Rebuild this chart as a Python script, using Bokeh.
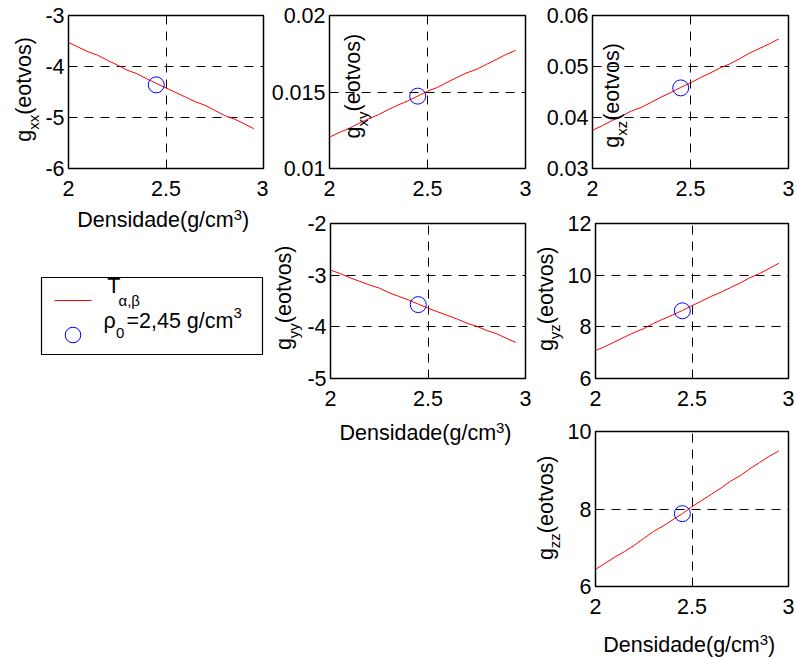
import math
from bokeh.plotting import figure
from bokeh.layouts import row, column
from bokeh.models import Range1d, Label, Legend, LegendItem, Arrow, GlobalInlineStyleSheet
from bokeh.core.properties import value
from bokeh.embed import file_html
from bokeh.resources import INLINE

# ---------------- data ----------------
density = [2.00, 2.05, 2.10, 2.15, 2.20, 2.25, 2.30, 2.35, 2.40, 2.45,
           2.50, 2.55, 2.60, 2.65, 2.70, 2.75, 2.80, 2.85, 2.90, 2.95]
gxx = [-3.53, -3.62, -3.71, -3.78, -3.88, -3.97, -4.07, -4.14, -4.24, -4.33,
       -4.42, -4.51, -4.60, -4.69, -4.76, -4.86, -4.96, -5.03, -5.12, -5.22]
gxy = [0.01205, 0.01235, 0.01262, 0.01295, 0.01325, 0.01352, 0.01385, 0.01415, 0.01442, 0.01473,
       0.01505, 0.01530, 0.01563, 0.01595, 0.01625, 0.01648, 0.01680, 0.01712, 0.01745, 0.01772]
gxz = [0.0375, 0.0384, 0.0394, 0.0403, 0.0413, 0.0420, 0.0430, 0.0440, 0.0449, 0.0459,
       0.0468, 0.0478, 0.0487, 0.0497, 0.0505, 0.0515, 0.0526, 0.0535, 0.0544, 0.0554]
gyy = [-2.90, -2.97, -3.05, -3.12, -3.19, -3.25, -3.34, -3.41, -3.48, -3.56,
       -3.64, -3.71, -3.78, -3.85, -3.93, -3.99, -4.07, -4.13, -4.22, -4.30]
gyz = [7.08, 7.24, 7.42, 7.60, 7.78, 7.93, 8.13, 8.30, 8.46, 8.63,
       8.82, 9.00, 9.18, 9.34, 9.52, 9.70, 9.90, 10.06, 10.26, 10.46]
gzz = [6.44, 6.60, 6.76, 6.90, 7.06, 7.24, 7.42, 7.56, 7.72, 7.88,
       8.06, 8.22, 8.38, 8.54, 8.72, 8.86, 9.04, 9.20, 9.36, 9.50]

rho0 = [2.45]
gxx_rho0 = [-4.36]
gxy_rho0 = [0.01473]
gxz_rho0 = [0.0458]
gyy_rho0 = [-3.57]
gyz_rho0 = [8.62]
gzz_rho0 = [7.88]

x_ticks = [2, 2.5, 3]
x_tick_labels = ["2", "2.5", "3"]
gxx_ticks = [-6, -5, -4, -3]
gxx_tick_labels = ["-6", "-5", "-4", "-3"]
gxy_ticks = [0.01, 0.015, 0.02]
gxy_tick_labels = ["0.01", "0.015", "0.02"]
gxz_ticks = [0.03, 0.04, 0.05, 0.06]
gxz_tick_labels = ["0.03", "0.04", "0.05", "0.06"]
gyy_ticks = [-5, -4, -3, -2]
gyy_tick_labels = ["-5", "-4", "-3", "-2"]
gyz_ticks = [6, 8, 10, 12]
gyz_tick_labels = ["6", "8", "10", "12"]
gzz_ticks = [6, 8, 10]
gzz_tick_labels = ["6", "8", "10"]

x_label_main = "Densidade(g/cm"
x_label_sup = "3"
x_label_end = ")"
y_label_g = "g"
y_label_unit = "(eotvos)"
legend_T = "T"
legend_T_sub = "\u03b1,\u03b2"
legend_rho = "\u03c1"
legend_rho_sub = "0"
legend_rho_text = "=2,45 g/cm"
legend_rho_sup = "3"

FONT = "Liberation Sans"
BIG = 21.5
SMALL = 15.0
EM_W = {"(eotvos)": 3.612, "g": 0.556, "Densidade(g/cm": 7.280, "3": 0.556}
SUB_DROP = 7
MID = 0.345  # distance (em) from text middle to alphabetic baseline


def no_align(p):
    if "frame_align" in p.properties():
        p.frame_align = False


def base_fig(box, frame, xr, yr, axes=True):
    fx, fy, fw, fh = box
    L, T, W, H = frame
    kw = {}
    if not axes:
        kw = dict(x_axis_location=None, y_axis_location=None)
    p = figure(width=fw, height=fh, x_range=Range1d(*xr), y_range=Range1d(*yr),
               output_backend="svg", toolbar_location=None,
               min_border_left=L - fx, min_border_right=fx + fw - (L + W),
               min_border_top=T - fy, min_border_bottom=fy + fh - (T + H), **kw)
    no_align(p)
    p.background_fill_color = "white"
    p.border_fill_color = "white"
    p._geo = (L, T, W, H, xr[0], xr[1], yr[0], yr[1])
    return p


def to_data(p, px, py):
    L, T, W, H, x0, x1, y0, y1 = p._geo
    return x0 + (px - L) / W * (x1 - x0), y1 - (py - T) / H * (y1 - y0)


def add_text(p, px, py, text, size, rotated=False):
    # (px, py) = start of the alphabetic baseline in page pixels
    if rotated:
        px = px - MID * size
        angle = math.pi / 2
    else:
        py = py - MID * size
        angle = 0.0
    x, y = to_data(p, px, py)
    p.add_layout(Label(x=x, y=y, text=text, text_font=FONT, text_font_size=f"{size}px",
                       text_color="black", text_align="left", text_baseline="middle",
                       angle=angle))


def strip(box):
    p = base_fig(box, box, (0, 1), (0, 1), axes=False)
    p.outline_line_color = None
    p.grid.visible = False
    return p


def add_ylabel(p, bx, end_y, sub):
    a_unit = end_y + EM_W["(eotvos)"] * BIG
    a_sub = a_unit + 1.0 * SMALL
    a_g = a_sub + EM_W["g"] * BIG
    add_text(p, bx, a_g, y_label_g, BIG, True)
    add_text(p, bx + SUB_DROP, a_sub, sub, SMALL, True)
    add_text(p, bx, a_unit, y_label_unit, BIG, True)


def add_xlabel(p, lx, by):
    add_text(p, lx, by, x_label_main, BIG)
    sx = lx + EM_W["Densidade(g/cm"] * BIG
    add_text(p, sx, by - 7, x_label_sup, SMALL)
    add_text(p, sx + EM_W["3"] * SMALL, by, x_label_end, BIG)


def make_panel(box, frame, yr, yvals, yref, yticks, ytick_labels):
    p = base_fig(box, frame, (2, 3), yr)
    p.outline_line_color = "black"
    p.outline_line_width = 1.5
    p.xaxis.ticker = x_ticks
    p.xaxis.major_label_overrides = dict(zip(x_ticks, x_tick_labels))
    p.yaxis.ticker = yticks
    p.yaxis.major_label_overrides = dict(zip(yticks, ytick_labels))
    for ax in (p.xaxis[0], p.yaxis[0]):
        ax.major_label_text_font = FONT
        ax.major_label_text_font_size = f"{BIG}px"
        ax.major_label_text_color = "black"
        ax.axis_line_color = "black"
        ax.major_tick_in = 5
        ax.major_tick_out = 0
        ax.minor_tick_in = 0
        ax.minor_tick_out = 0
        ax.major_tick_line_color = "black"
        ax.minor_tick_line_color = None
    p.xaxis.major_label_standoff = 12
    p.yaxis.major_label_standoff = 4
    p.grid.grid_line_color = "black"
    p.grid.grid_line_dash = "9 7"
    p.grid.grid_line_width = 1
    p.line(density, yvals, line_color="#ff0000", line_width=1)
    p.scatter(rho0, yref, marker="circle", size=16, fill_color=None,
              line_color="#0000ff", line_width=1)
    return p


# ---------------- column 1 ----------------
s_xx = strip((0, 0, 42, 205))
p_xx = make_panel((42, 0, 226, 205), (66, 15, 197, 153), (-6, -3), gxx, gxx_rho0,
                  gxx_ticks, gxx_tick_labels)
add_ylabel(s_xx, 31, 36.7, "xx")
xl_xx = strip((0, 205, 268, 32))
add_xlabel(xl_xx, 76.7, 227)

LF = (41, 277, 221, 77)
pl = base_fig((0, 237, 268, 155), LF, (0, 1), (0, 1), axes=False)
pl.outline_line_color = "black"
pl.outline_line_width = 1.2
pl.grid.visible = False
# legend sample line (annotation) and legend marker (Legend model)
lx0, ly0 = to_data(pl, 54, 300)
lx1, ly1 = to_data(pl, 91, 300)
pl.add_layout(Arrow(x_start=lx0, y_start=ly0, x_end=lx1, y_end=ly1, start=None, end=None,
                    line_color="#ff0000", line_width=1))
r_circ = pl.scatter(x=[math.nan], y=[math.nan], marker="circle", size=16, fill_color=None,
                    line_color="#0000ff", line_width=1)
leg2 = Legend(items=[LegendItem(label=value(" "), renderers=[r_circ])], location="bottom_left",
              margin=0, padding=0, glyph_width=63, glyph_height=39, label_standoff=0,
              label_width=0, label_height=0, label_text_font_size="1px",
              border_line_alpha=0, background_fill_alpha=0)
pl.add_layout(leg2)
add_text(pl, 106.7, 293, legend_T, BIG)
add_text(pl, 118, 305, legend_T_sub, SMALL)
add_text(pl, 103, 328, legend_rho, BIG)
add_text(pl, 115.5, 338, legend_rho_sub, SMALL)
add_text(pl, 126, 328, legend_rho_text, BIG)
add_text(pl, 233, 318, legend_rho_sup, SMALL)

# ---------------- column 2 ----------------
p_xy = make_panel((268, 0, 265, 213), (328, 15, 197, 153), (0.01, 0.02), gxy, gxy_rho0,
                  gxy_ticks, gxy_tick_labels)
add_ylabel(p_xy, 359.5, 33.3, "xy")
s_yy = strip((268, 213, 36, 202))
p_yy = make_panel((304, 213, 229, 202), (328, 223, 197, 155), (-5, -2), gyy, gyy_rho0,
                  gyy_ticks, gyy_tick_labels)
add_ylabel(s_yy, 291, 245, "yy")
xl_yy = strip((268, 415, 265, 37))
add_xlabel(xl_yy, 339, 439.5)

# ---------------- column 3 ----------------
p_xz = make_panel((533, 0, 264, 213), (592, 15, 196, 153), (0.03, 0.06), gxz, gxz_rho0,
                  gxz_ticks, gxz_tick_labels)
add_ylabel(p_xz, 619, 42.7, "xz")
s_yz = strip((533, 213, 31, 208))
p_yz = make_panel((564, 213, 233, 208), (592, 223, 196, 155), (6, 12), gyz, gyz_rho0,
                  gyz_ticks, gyz_tick_labels)
add_ylabel(s_yz, 552.5, 246, "yz")
s_zz = strip((533, 421, 31, 202))
p_zz = make_panel((564, 421, 233, 202), (592, 431, 196, 155), (6, 10), gzz, gzz_rho0,
                  gzz_ticks, gzz_tick_labels)
add_ylabel(s_zz, 552.5, 455, "zz")
xl_zz = strip((533, 623, 264, 34))
add_xlabel(xl_zz, 602.7, 652)

col1 = column(row(s_xx, p_xx), xl_xx, pl)
col2 = column(p_xy, row(s_yy, p_yy), xl_yy)
col3 = column(p_xz, row(s_yz, p_yz), row(s_zz, p_zz), xl_zz)
layout = row(col1, col2, col3)
layout.stylesheets = [GlobalInlineStyleSheet(css="html, body { overflow: hidden; }")]

open("out.html", "w").write(file_html(layout, INLINE))
